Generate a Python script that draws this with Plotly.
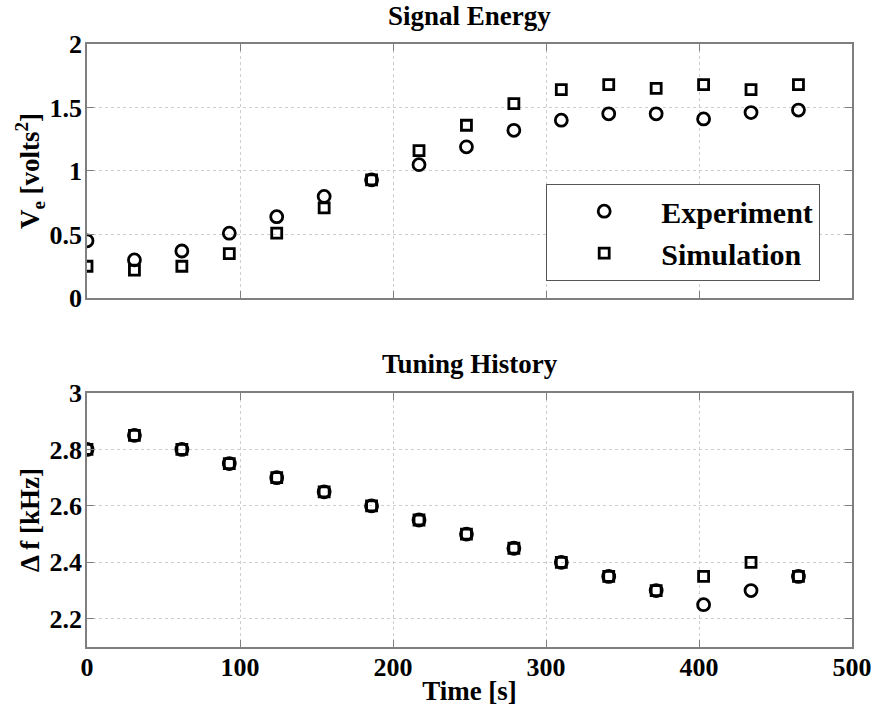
import plotly.graph_objects as go

# ---- data ----
time_s = [0, 31, 62, 93, 124, 155, 186, 217, 248, 279, 310, 341, 372, 403, 434, 465]
energy_experiment = [0.45, 0.30, 0.37, 0.51, 0.64, 0.80, 0.93, 1.05, 1.19, 1.32, 1.40, 1.45, 1.45, 1.41, 1.46, 1.48]
energy_simulation = [0.25, 0.22, 0.25, 0.35, 0.51, 0.71, 0.93, 1.16, 1.36, 1.53, 1.64, 1.68, 1.65, 1.68, 1.64, 1.68]
df_experiment = [2.80, 2.85, 2.80, 2.75, 2.70, 2.65, 2.60, 2.55, 2.50, 2.45, 2.40, 2.35, 2.30, 2.25, 2.30, 2.35]
df_simulation = [2.80, 2.85, 2.80, 2.75, 2.70, 2.65, 2.60, 2.55, 2.50, 2.45, 2.40, 2.35, 2.30, 2.35, 2.40, 2.35]

x_ticks = [0, 100, 200, 300, 400, 500]
top_ticks = [0, 0.5, 1, 1.5, 2]
top_labels = ["0", "0.5", "1", "1.5", "2"]
bot_ticks = [2.2, 2.4, 2.6, 2.8, 3]
bot_labels = ["2.2", "2.4", "2.6", "2.8", "3"]

FONT = "Liberation Serif"
tick_font = dict(family=FONT, size=26, color="black", weight="bold")
title_font = dict(family=FONT, size=27, color="black", weight="bold")
head_font = dict(family=FONT, size=27, color="black", weight="bold")

fig = go.Figure()

circle = dict(symbol="circle-open", size=12, color="black", line=dict(width=2.8, color="black"))
square = dict(symbol="square-open", size=10, color="black", line=dict(width=2.8, color="black"))

fig.add_trace(go.Scatter(x=time_s, y=energy_experiment, mode="markers", marker=circle,
                         name="Experiment", xaxis="x", yaxis="y"))
fig.add_trace(go.Scatter(x=time_s, y=energy_simulation, mode="markers", marker=square,
                         name="Simulation", xaxis="x", yaxis="y"))
fig.add_trace(go.Scatter(x=time_s, y=df_simulation, mode="markers", marker=square,
                         showlegend=False, xaxis="x2", yaxis="y2"))
fig.add_trace(go.Scatter(x=time_s, y=df_experiment, mode="markers", marker=circle,
                         showlegend=False, xaxis="x2", yaxis="y2"))

axis_common = dict(
    showline=True, linecolor="#7f7f7f", linewidth=1.5, mirror="allticks",
    ticks="inside", ticklen=7, tickcolor="#7f7f7f", tickwidth=1.2,
    showgrid=True, gridcolor="#cdcdcd", griddash="dot", gridwidth=1,
    zeroline=False, tickfont=tick_font, automargin=False,
)

TOP_LO = 0.5788
BOT_HI = 0.4212

fig.update_layout(
    width=874, height=711,
    margin=dict(l=87, r=22, t=44, b=64),
    paper_bgcolor="white", plot_bgcolor="white",
    showlegend=True,
    legend=dict(
        x=(546 - 87) / 765, y=(298 - 184) / 254 * (1 - TOP_LO) + TOP_LO, xanchor="left", yanchor="top",
        xref="paper", yref="paper",
        bordercolor="#555555", borderwidth=1.2, bgcolor="white",
        font=dict(family=FONT, size=30, color="black", weight="bold"),
        itemwidth=104, tracegroupgap=0, itemsizing="trace",
    ),
    xaxis=dict(axis_common, domain=[0, 1], range=[0, 500], tickvals=x_ticks, showticklabels=False,
               anchor="y"),
    yaxis=dict(axis_common, domain=[TOP_LO, 1], range=[0, 2], tickvals=top_ticks, ticktext=top_labels,
               anchor="x", ticklabelstandoff=-2,
               title=dict(text="V<sub>e</sub> [volts<sup>2</sup>]", standoff=2, font=title_font)),
    xaxis2=dict(axis_common, domain=[0, 1], range=[0, 500], tickvals=x_ticks, anchor="y2",
                ticklabelstandoff=-4,
                title=dict(text="Time [s]", standoff=0, font=title_font)),
    yaxis2=dict(axis_common, domain=[0, BOT_HI], range=[2.1, 3], tickvals=bot_ticks, ticktext=bot_labels,
                anchor="x2", ticklabelstandoff=-2,
                title=dict(text="Δ f [kHz]", standoff=2, font=title_font)),
    annotations=[
        dict(text="Signal Energy", x=0.5, y=1, xref="paper", yref="paper", xanchor="center",
             yanchor="bottom", yshift=11, showarrow=False, font=head_font),
        dict(text="Tuning History", x=0.5, y=BOT_HI, xref="paper", yref="paper", xanchor="center",
             yanchor="bottom", yshift=12, showarrow=False, font=head_font),
    ],
)

fig.write_html("out.html", config={"displayModeBar": False},
               post_script="document.body.style.margin='0px';")
